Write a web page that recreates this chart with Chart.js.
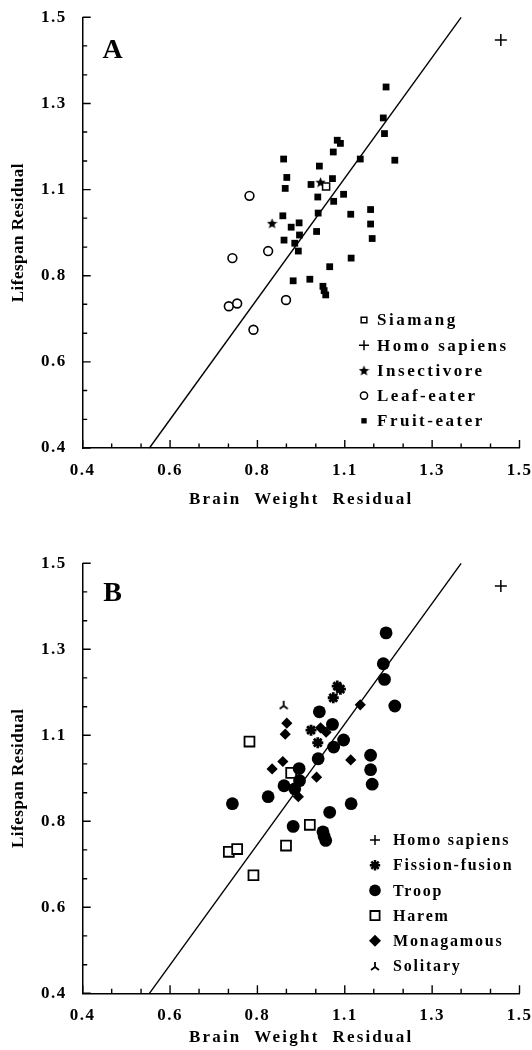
<!DOCTYPE html>
<html><head><meta charset="utf-8">
<script src="https://cdn.jsdelivr.net/npm/chart.js@4.4.1/dist/chart.umd.min.js"></script>
<style>
html,body{margin:0;padding:0;background:#fff;}
#wrapA{position:absolute;left:0;top:0;width:532px;height:520px;}
#wrapB{position:absolute;left:0;top:520px;width:532px;height:530px;}
canvas{display:block;}
</style></head><body>
<div id="wrapA"><canvas id="chartA" width="532" height="520"></canvas></div>
<div id="wrapB"><canvas id="chartB" width="532" height="530"></canvas></div>
<script>
// ---------- axis ticks ----------
const tickValues = [0.4, 0.62, 0.84, 1.06, 1.28, 1.5];
const tickLabels = ['0.4', '0.6', '0.8', '1.1', '1.3', '1.5'];
const minorTickValues = [0.473, 0.547, 0.693, 0.767, 0.913, 0.987, 1.133, 1.207, 1.353, 1.427];
const xTitle = 'Brain  Weight  Residual';
const yTitle = 'Lifespan Residual';

// ---------- regression line ----------
const lineX = [0.568, 1.353];
const lineY = [0.40, 1.50];

// ---------- Panel A (diet) ----------
const siamangX = [1.013];
const siamangY = [1.068];
const homoX = [1.453];
const homoY = [1.442];
const insectX = [0.877, 0.999];
const insectY = [0.974, 1.079];
const leafX = [0.820, 0.867, 0.777, 0.912, 0.768, 0.789, 0.830];
const leafY = [1.044, 0.903, 0.885, 0.778, 0.762, 0.769, 0.702];
const fruitX = [1.164, 1.157, 1.160, 1.041, 1.049, 1.031, 1.099, 1.186, 0.906, 0.996,
                0.914, 1.029, 0.975, 0.910, 0.992, 1.057, 1.032, 1.125, 1.075, 0.993,
                0.904, 0.925, 0.945, 1.125, 0.989, 0.946, 0.907, 1.129, 0.934, 0.943,
                1.076, 1.022, 0.930, 0.972, 1.005, 1.008, 1.012];
const fruitY = [1.322, 1.243, 1.203, 1.186, 1.178, 1.156, 1.138, 1.135, 1.138, 1.120,
                1.091, 1.088, 1.073, 1.063, 1.041, 1.048, 1.030, 1.009, 0.997, 1.000,
                0.993, 0.964, 0.975, 0.972, 0.953, 0.944, 0.931, 0.935, 0.923, 0.903,
                0.885, 0.863, 0.827, 0.831, 0.813, 0.802, 0.791];

// ---------- Panel B (social system) ----------
const fissionX = [1.041, 1.049, 1.031, 0.975, 0.992];
const fissionY = [1.186, 1.178, 1.156, 1.073, 1.041];
const troopX = [1.164, 1.157, 1.160, 1.186, 0.996, 1.029, 1.057, 1.032, 1.125, 0.993,
                0.945, 1.125, 0.946, 0.907, 1.129, 0.934, 1.076, 1.022, 0.930, 1.005,
                1.008, 1.012, 0.867, 0.777];
const troopY = [1.322, 1.243, 1.203, 1.135, 1.120, 1.088, 1.048, 1.030, 1.009, 1.000,
                0.975, 0.972, 0.944, 0.931, 0.935, 0.923, 0.885, 0.863, 0.827, 0.813,
                0.802, 0.791, 0.903, 0.885];
const haremX = [0.925, 0.972, 0.820, 0.912, 0.768, 0.789, 0.830];
const haremY = [0.964, 0.831, 1.044, 0.778, 0.762, 0.769, 0.702];
const monoX = [1.099, 0.914, 0.910, 1.075, 0.904, 0.989, 0.943, 0.877, 0.999, 1.013];
const monoY = [1.138, 1.091, 1.063, 0.997, 0.993, 0.953, 0.903, 0.974, 1.079, 1.068];
const solitaryX = [0.906];
const solitaryY = [1.138];

const legendA = ['Siamang', 'Homo sapiens', 'Insectivore', 'Leaf-eater', 'Fruit-eater'];
const legendB = ['Homo sapiens', 'Fission-fusion', 'Troop', 'Harem', 'Monagamous', 'Solitary'];

// ---------- helpers ----------
const FONT = '"Liberation Serif", "Times New Roman", serif';
const pts = (xs, ys) => xs.map((x, i) => ({ x, y: ys[i] }));

function makeStar(size) {
  const c = document.createElement('canvas'); c.width = c.height = size;
  const g = c.getContext('2d'); g.fillStyle = '#000'; g.beginPath();
  const cx = size / 2, cy = size / 2 + 0.5, R = size / 2, r = R * 0.45;
  for (let i = 0; i < 10; i++) {
    const a = -Math.PI / 2 + i * Math.PI / 5, rr = i % 2 ? r : R;
    g.lineTo(cx + rr * Math.cos(a), cy + rr * Math.sin(a));
  }
  g.closePath(); g.fill(); return c;
}
function makeSolitary(size) {
  const c = document.createElement('canvas'); c.width = c.height = size;
  const g = c.getContext('2d'); g.strokeStyle = '#000'; g.lineWidth = 1.8; g.lineCap = 'butt';
  const cx = size / 2, cy = size / 2;
  g.beginPath();
  g.moveTo(cx, 1); g.lineTo(cx, cy + 1);
  g.moveTo(cx, cy + 1); g.lineTo(1, size - 1);
  g.moveTo(cx, cy + 1); g.lineTo(size - 1, size - 1);
  g.stroke(); return c;
}
const starImg = makeStar(11), starImgSmall = makeStar(11);
const solImg = makeSolitary(10), solImgSmall = makeSolitary(10);

const styles = {
  siamang: { pointStyle: 'rect', radius: 5, borderWidth: 1.5, fill: '#fff' },
  homo: { pointStyle: 'cross', radius: 6, borderWidth: 1.5, fill: '#000' },
  insect: { pointStyle: starImg, radius: 5, borderWidth: 0, fill: '#000' },
  leaf: { pointStyle: 'circle', radius: 4.4, borderWidth: 1.6, fill: '#fff' },
  fruit: { pointStyle: 'rect', radius: 4.8, borderWidth: 0, fill: '#000' },
  fission: { pointStyle: 'star', radius: 5.5, borderWidth: 2.8, fill: '#000' },
  troop: { pointStyle: 'circle', radius: 6.4, borderWidth: 0, fill: '#000' },
  harem: { pointStyle: 'rect', radius: 7, borderWidth: 1.8, fill: '#fff' },
  mono: { pointStyle: 'rectRot', radius: 5.6, borderWidth: 0, fill: '#000' },
  solitary: { pointStyle: solImg, radius: 5, borderWidth: 0, fill: '#000' }
};
const legendStyles = {
  siamang: { pointStyle: 'rect', radius: 4, borderWidth: 1.5, fill: '#fff' },
  homo: { pointStyle: 'cross', radius: 5, borderWidth: 1.5, fill: '#000' },
  insect: { pointStyle: starImgSmall, radius: 5, borderWidth: 0, fill: '#000' },
  leaf: { pointStyle: 'circle', radius: 3.6, borderWidth: 1.5, fill: '#fff' },
  fruit: { pointStyle: 'rect', radius: 3.8, borderWidth: 0, fill: '#000' },
  fission: { pointStyle: 'star', radius: 5.2, borderWidth: 2.5, fill: '#000' },
  troop: { pointStyle: 'circle', radius: 5.8, borderWidth: 0, fill: '#000' },
  harem: { pointStyle: 'rect', radius: 6.5, borderWidth: 1.8, fill: '#fff' },
  mono: { pointStyle: 'rectRot', radius: 6, borderWidth: 0, fill: '#000' },
  solitary: { pointStyle: solImgSmall, radius: 5, borderWidth: 0, fill: '#000' }
};

function ds(label, data, st) {
  return {
    label, data,
    pointStyle: st.pointStyle, pointRadius: st.radius, pointBorderWidth: st.borderWidth,
    pointBackgroundColor: st.fill, pointBorderColor: '#000',
    backgroundColor: st.fill, borderColor: '#000', showLine: false, clip: false
  };
}
function lineDs() {
  return { label: 'fit', data: pts(lineX, lineY), showLine: true, pointRadius: 0,
           borderColor: '#000', borderWidth: 1.4, fill: false, clip: false };
}

const decor = {
  id: 'decor',
  beforeDraw(chart) { chart.ctx.letterSpacing = '1.5px'; },
  afterDraw(chart, args, o) {
    const { ctx, chartArea: a } = chart;
    const sx = chart.scales.x, sy = chart.scales.y;
    ctx.save();
    ctx.strokeStyle = '#000'; ctx.lineWidth = 1.4;
    ctx.beginPath();
    tickValues.forEach(v => {
      const px = sx.getPixelForValue(v); ctx.moveTo(px, a.bottom); ctx.lineTo(px, a.bottom - 8);
      const py = sy.getPixelForValue(v); ctx.moveTo(a.left, py); ctx.lineTo(a.left + 8, py);
    });
    minorTickValues.forEach(v => {
      const px = sx.getPixelForValue(v); ctx.moveTo(px, a.bottom); ctx.lineTo(px, a.bottom - 4.5);
      const py = sy.getPixelForValue(v); ctx.moveTo(a.left, py); ctx.lineTo(a.left + 4.5, py);
    });
    ctx.stroke();
    // panel letter
    ctx.fillStyle = '#000';
    ctx.letterSpacing = '0px';
    ctx.font = 'bold 28px ' + FONT;
    ctx.textAlign = 'center'; ctx.textBaseline = 'middle';
    ctx.fillText(o.letter, a.left + 30, a.top + o.letterDy);
    // legend
    ctx.letterSpacing = o.lspace;
    ctx.font = 'bold ' + o.lsize + 'px ' + FONT;
    ctx.textAlign = 'left';
    o.items.forEach((it, i) => {
      const y = o.ly + i * 25.2;
      const st = legendStyles[it.key];
      ctx.fillStyle = st.fill; ctx.strokeStyle = '#000'; ctx.lineWidth = st.borderWidth;
      Chart.helpers.drawPoint(ctx, { pointStyle: st.pointStyle, radius: st.radius, rotation: 0, borderWidth: st.borderWidth }, o.mx, y);
      ctx.fillStyle = '#000';
      ctx.fillText(it.text, o.tx, y + 1);
    });
    ctx.restore();
  }
};

function labelFont(size) { return { family: FONT, size, weight: 'bold' }; }
function patchTitle(s, spacing) {
  if (s.__patched) return;
  const orig = s.drawTitle.bind(s);
  s.drawTitle = function () { const c = this.ctx; c.save(); c.letterSpacing = spacing; orig(); c.restore(); };
  s.__patched = true;
}

function makeChart(id, datasets, cfg) {
  return new Chart(document.getElementById(id), {
    type: 'scatter',
    data: { datasets },
    options: {
      responsive: false, animation: false, devicePixelRatio: 1,
      layout: { padding: { top: cfg.top, right: 12.5, left: 0, bottom: 0 } },
      plugins: { legend: { display: false }, tooltip: { enabled: false }, decor: cfg.decor },
      scales: {
        x: {
          type: 'linear', min: 0.4, max: 1.5, position: 'bottom',
          grid: { display: false, drawTicks: false },
          border: { display: true, color: '#000', width: 1.5 },
          ticks: { autoSkip: false, maxRotation: 0, padding: cfg.xPad, color: '#000', font: labelFont(17),
                   callback: (v, i) => tickLabels[i] },
          afterBuildTicks: s => { s.ticks = tickValues.map(v => ({ value: v })); },
          afterFit: s => { s.height = cfg.xh; s.paddingLeft = 0; s.paddingRight = 0; patchTitle(s, '2.2px'); },
          title: { display: true, text: xTitle, color: '#000', font: labelFont(17), padding: { top: 0, bottom: cfg.xtPad } }
        },
        y: {
          type: 'linear', min: 0.4, max: 1.5, position: 'left',
          grid: { display: false, drawTicks: false },
          border: { display: true, color: '#000', width: 1.5 },
          ticks: { autoSkip: false, padding: 16, color: '#000', font: labelFont(17),
                   callback: (v, i) => tickLabels[i] },
          afterBuildTicks: s => { s.ticks = tickValues.map(v => ({ value: v })); },
          afterFit: s => { s.width = 82.7; s.paddingTop = 0; s.paddingBottom = 0; patchTitle(s, '0.5px'); },
          title: { display: true, text: yTitle, color: '#000', font: labelFont(17), padding: { top: 8, bottom: 0 } }
        }
      }
    },
    plugins: [decor]
  });
}

makeChart('chartA', [
  ds('Siamang', pts(siamangX, siamangY), styles.siamang),
  ds('Homo sapiens', pts(homoX, homoY), styles.homo),
  ds('Insectivore', pts(insectX, insectY), styles.insect),
  ds('Leaf-eater', pts(leafX, leafY), styles.leaf),
  ds('Fruit-eater', pts(fruitX, fruitY), styles.fruit),
  lineDs()
], {
  top: 17.3, xh: 520 - 448, xPad: 12, xtPad: 10,
  decor: { letter: 'A', letterDy: 33, mx: 364, tx: 377, ly: 320, lsize: 17, lspace: '2.5px',
           items: [{ key: 'siamang', text: legendA[0] }, { key: 'homo', text: legendA[1] },
                   { key: 'insect', text: legendA[2] }, { key: 'leaf', text: legendA[3] },
                   { key: 'fruit', text: legendA[4] }] }
});

makeChart('chartB', [
  ds('Homo sapiens', pts(homoX, homoY), styles.homo),
  ds('Fission-fusion', pts(fissionX, fissionY), styles.fission),
  ds('Troop', pts(troopX, troopY), styles.troop),
  ds('Harem', pts(haremX, haremY), styles.harem),
  ds('Monagamous', pts(monoX, monoY), styles.mono),
  ds('Solitary', pts(solitaryX, solitaryY), styles.solitary),
  lineDs()
], {
  top: 43.3, xh: 530 - 473.3, xPad: 12, xtPad: 2.5,
  decor: { letter: 'B', letterDy: 30, mx: 375, tx: 393, ly: 320, lsize: 16, lspace: '1.8px',
           items: [{ key: 'homo', text: legendB[0] }, { key: 'fission', text: legendB[1] },
                   { key: 'troop', text: legendB[2] }, { key: 'harem', text: legendB[3] },
                   { key: 'mono', text: legendB[4] }, { key: 'solitary', text: legendB[5] }] }
});
</script>
</body></html>
